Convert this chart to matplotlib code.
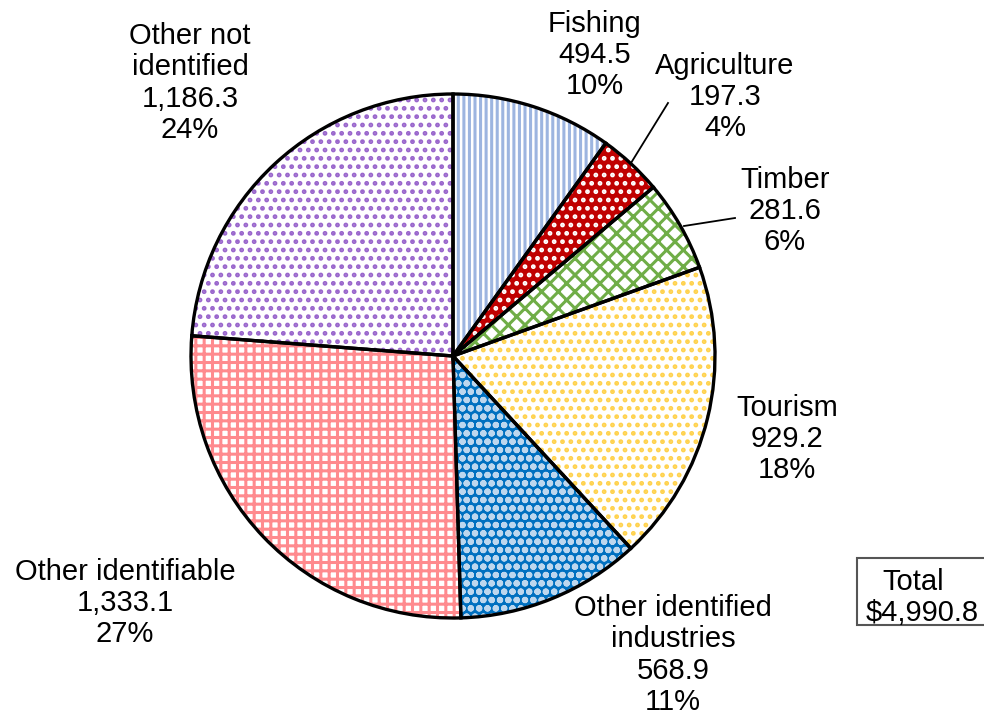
import numpy as np
import matplotlib.pyplot as plt
from matplotlib.patches import Rectangle

plt.rcParams['font.family'] = ['Liberation Sans', 'DejaVu Sans']
plt.rcParams['hatch.linewidth'] = 2.2

labels = ['Fishing', 'Agriculture', 'Timber', 'Tourism',
          'Other identified\nindustries', 'Other identifiable', 'Other not\nidentified']
values = [494.5, 197.3, 281.6, 929.2, 568.9, 1333.1, 1186.3]
value_txt = ['494.5', '197.3', '281.6', '929.2', '568.9', '1,333.1', '1,186.3']
pct_txt = ['10%', '4%', '6%', '18%', '11%', '27%', '24%']
total_txt = '$4,990.8'

# fill colour, hatch, hatch colour
styles = [('white', '|||', '#9DB5E0'),
          ('#C00000', '..', 'white'),
          ('white', 'xx', '#70AD47'),
          ('white', '..', '#FFD24D'),
          ('#0070C0', 'oo', '#BDD7EE'),
          ('white', '++', '#FF8A8E'),
          ('white', '..', '#9966CC')]

# label text centres (pixel coords, y from top)
label_pos = [(595, 55), (725, 97), (785, 211), (787, 439),
             (673, 655), (125, 603), (190, 83)]

W, H = 984, 723
fig = plt.figure(figsize=(W / 100, H / 100), dpi=100)
ax = fig.add_axes([0, 0, 1, 1])

cx, cy, r = 453, H - 356, 262

wedges, _ = ax.pie(values, startangle=90, counterclock=False,
                   center=(cx, cy), radius=r, frame=True)
for w, (fc, hatch, hc) in zip(wedges, styles):
    w.set_facecolor(fc)
    w.set_hatch(hatch)
    w.set_edgecolor(hc)
    w.set_linewidth(0)

# black outlines on top
outl, _ = ax.pie(values, startangle=90, counterclock=False,
                 center=(cx, cy), radius=r, frame=True,
                 wedgeprops=dict(facecolor='none', edgecolor='black', linewidth=2.4))
ax.set_xlim(0, W)
ax.set_ylim(0, H)
ax.axis('off')

for i in range(len(values)):
    x, y = label_pos[i]
    txt = labels[i] + '\n' + value_txt[i] + '\n' + pct_txt[i]
    ax.text(x, H - y, txt, ha='center', va='center', fontsize=21,
            linespacing=1.15, color='black')

# leader lines
ax.plot([668, 631], [H - 103, H - 163], color='black', lw=1.3)
ax.plot([735, 684], [H - 218, H - 226], color='black', lw=1.3)

# total box
ax.add_patch(Rectangle((857, H - 625), 140, 67, facecolor='white',
                       edgecolor='#555555', lw=1.5, clip_on=False))
ax.text(913, H - 582, 'Total', ha='center', va='center', fontsize=21)
ax.text(922, H - 613, total_txt, ha='center', va='center', fontsize=21)

fig.savefig('out.png', dpi=100)
